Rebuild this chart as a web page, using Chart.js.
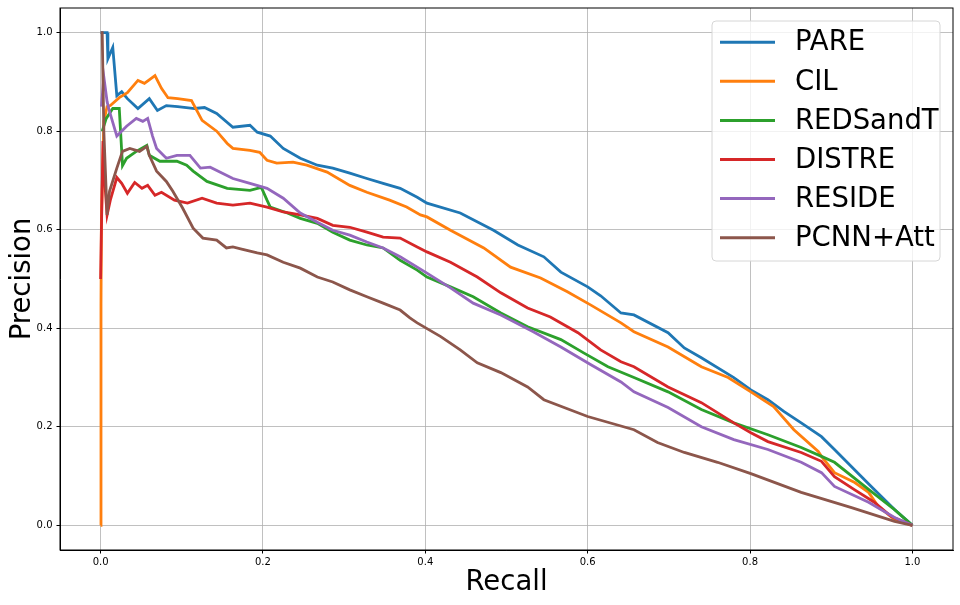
<!DOCTYPE html>
<html>
<head>
<meta charset="utf-8">
<script src="https://cdn.jsdelivr.net/npm/chart.js@4"></script>
<style>
  html, body { margin: 0; padding: 0; background: #fff; }
  #wrap { width: 960px; height: 605px; }
</style>
</head>
<body>
<div id="wrap"><canvas id="pr" width="960" height="605"></canvas></div>
<script>
// values
const seriesNames = ['PARE', 'CIL', 'REDSandT', 'DISTRE', 'RESIDE', 'PCNN+Att'];
const seriesColors = ['#1f77b4', '#ff7f0e', '#2ca02c', '#d62728', '#9467bd', '#8c564b'];
const tickValues = [0.0, 0.2, 0.4, 0.6, 0.8, 1.0];

const pareRecall = [0.0, 0.008, 0.009, 0.015, 0.02, 0.026, 0.033, 0.046, 0.06, 0.07, 0.081, 0.095, 0.116, 0.128, 0.143, 0.163, 0.184, 0.193, 0.209, 0.225, 0.246, 0.267, 0.286, 0.307, 0.328, 0.348, 0.369, 0.39, 0.402, 0.443, 0.484, 0.514, 0.546, 0.567, 0.6, 0.616, 0.641, 0.657, 0.699, 0.719, 0.74, 0.78, 0.801, 0.822, 0.842, 0.863, 0.888, 0.904, 0.937, 0.953, 0.978, 1.0];
const parePrecision = [1.0, 1.0, 0.947, 0.97, 0.872, 0.88, 0.866, 0.846, 0.866, 0.842, 0.852, 0.85, 0.846, 0.848, 0.836, 0.808, 0.812, 0.798, 0.79, 0.765, 0.745, 0.731, 0.725, 0.715, 0.704, 0.694, 0.684, 0.666, 0.654, 0.634, 0.599, 0.569, 0.545, 0.514, 0.484, 0.466, 0.431, 0.427, 0.391, 0.36, 0.34, 0.30, 0.275, 0.255, 0.231, 0.208, 0.18, 0.154, 0.099, 0.073, 0.032, 0.0];

const cilRecall = [0.0, 0.0005, 0.001, 0.004, 0.008, 0.012, 0.023, 0.033, 0.046, 0.054, 0.067, 0.075, 0.083, 0.095, 0.112, 0.125, 0.143, 0.156, 0.163, 0.184, 0.196, 0.205, 0.217, 0.237, 0.254, 0.279, 0.307, 0.328, 0.356, 0.377, 0.394, 0.402, 0.431, 0.472, 0.505, 0.542, 0.575, 0.604, 0.641, 0.657, 0.699, 0.74, 0.773, 0.801, 0.829, 0.854, 0.884, 0.888, 0.904, 0.929, 0.946, 0.958, 0.978, 1.0];
const cilPrecision = [0.0, 0.45, 0.62, 0.82, 0.85, 0.852, 0.868, 0.878, 0.903, 0.897, 0.913, 0.887, 0.868, 0.866, 0.862, 0.822, 0.80, 0.775, 0.765, 0.761, 0.757, 0.741, 0.735, 0.737, 0.731, 0.717, 0.69, 0.676, 0.66, 0.646, 0.63, 0.626, 0.599, 0.563, 0.524, 0.502, 0.474, 0.447, 0.411, 0.393, 0.362, 0.322, 0.30, 0.271, 0.241, 0.194, 0.15, 0.14, 0.107, 0.087, 0.067, 0.038, 0.012, 0.0];

const redsRecall = [0.002, 0.007, 0.015, 0.023, 0.027, 0.032, 0.044, 0.057, 0.06, 0.073, 0.094, 0.106, 0.114, 0.131, 0.156, 0.184, 0.198, 0.205, 0.209, 0.23, 0.246, 0.267, 0.286, 0.307, 0.328, 0.348, 0.369, 0.39, 0.402, 0.431, 0.459, 0.493, 0.526, 0.567, 0.595, 0.625, 0.657, 0.699, 0.74, 0.78, 0.822, 0.863, 0.888, 0.904, 0.946, 0.978, 1.0];
const redsPrecision = [0.8, 0.826, 0.846, 0.846, 0.73, 0.745, 0.759, 0.771, 0.751, 0.739, 0.739, 0.731, 0.719, 0.698, 0.684, 0.68, 0.686, 0.66, 0.646, 0.634, 0.623, 0.613, 0.595, 0.579, 0.569, 0.563, 0.538, 0.518, 0.504, 0.484, 0.464, 0.431, 0.403, 0.377, 0.35, 0.322, 0.30, 0.271, 0.235, 0.208, 0.184, 0.158, 0.14, 0.128, 0.073, 0.032, 0.0];

const distreRecall = [0.0, 0.001, 0.003, 0.005, 0.008, 0.012, 0.02, 0.026, 0.033, 0.042, 0.051, 0.058, 0.067, 0.075, 0.091, 0.107, 0.125, 0.143, 0.163, 0.184, 0.205, 0.225, 0.246, 0.267, 0.286, 0.307, 0.328, 0.348, 0.369, 0.39, 0.402, 0.431, 0.464, 0.493, 0.526, 0.554, 0.588, 0.616, 0.641, 0.657, 0.699, 0.74, 0.78, 0.801, 0.822, 0.863, 0.888, 0.904, 0.928, 0.953, 0.974, 1.0];
const distrePrecision = [0.5, 0.6, 0.78, 0.70, 0.63, 0.66, 0.706, 0.694, 0.674, 0.696, 0.684, 0.69, 0.67, 0.676, 0.66, 0.654, 0.664, 0.654, 0.65, 0.654, 0.646, 0.636, 0.63, 0.623, 0.609, 0.605, 0.595, 0.585, 0.583, 0.565, 0.555, 0.534, 0.504, 0.472, 0.441, 0.423, 0.391, 0.356, 0.332, 0.322, 0.281, 0.249, 0.208, 0.188, 0.17, 0.148, 0.13, 0.099, 0.073, 0.047, 0.018, 0.0];

const resideRecall = [0.001, 0.004, 0.008, 0.011, 0.02, 0.032, 0.044, 0.052, 0.058, 0.064, 0.069, 0.081, 0.094, 0.11, 0.123, 0.135, 0.163, 0.184, 0.205, 0.225, 0.246, 0.267, 0.286, 0.307, 0.328, 0.348, 0.369, 0.39, 0.402, 0.431, 0.459, 0.493, 0.533, 0.567, 0.604, 0.641, 0.657, 0.699, 0.74, 0.78, 0.822, 0.863, 0.888, 0.904, 0.946, 0.978, 1.0];
const residePrecision = [0.85, 0.91, 0.86, 0.84, 0.79, 0.81, 0.826, 0.82, 0.826, 0.79, 0.765, 0.745, 0.751, 0.751, 0.725, 0.727, 0.704, 0.694, 0.684, 0.664, 0.634, 0.615, 0.599, 0.589, 0.575, 0.563, 0.545, 0.524, 0.512, 0.482, 0.451, 0.427, 0.393, 0.362, 0.326, 0.291, 0.271, 0.239, 0.2, 0.174, 0.154, 0.128, 0.107, 0.079, 0.047, 0.016, 0.0];

const pcnnRecall = [0.0, 0.002, 0.004, 0.008, 0.011, 0.02, 0.027, 0.036, 0.048, 0.057, 0.06, 0.069, 0.081, 0.089, 0.101, 0.114, 0.126, 0.143, 0.155, 0.163, 0.175, 0.193, 0.205, 0.225, 0.246, 0.267, 0.286, 0.307, 0.328, 0.348, 0.369, 0.381, 0.39, 0.419, 0.443, 0.464, 0.493, 0.526, 0.546, 0.6, 0.657, 0.686, 0.719, 0.76, 0.801, 0.863, 0.925, 0.978, 1.0];
const pcnnPrecision = [1.0, 1.0, 0.8, 0.63, 0.678, 0.725, 0.759, 0.765, 0.759, 0.769, 0.751, 0.719, 0.698, 0.678, 0.644, 0.603, 0.583, 0.579, 0.563, 0.565, 0.56, 0.553, 0.549, 0.534, 0.522, 0.504, 0.494, 0.478, 0.464, 0.451, 0.437, 0.421, 0.411, 0.383, 0.356, 0.33, 0.31, 0.281, 0.255, 0.221, 0.194, 0.168, 0.148, 0.128, 0.105, 0.067, 0.036, 0.008, 0.0];

const recallSets = [pareRecall, cilRecall, redsRecall, distreRecall, resideRecall, pcnnRecall];
const precisionSets = [parePrecision, cilPrecision, redsPrecision, distrePrecision, residePrecision, pcnnPrecision];

const FONT = 'DejaVu Sans';

const datasets = seriesNames.map((name, i) => ({
  label: name,
  data: recallSets[i].map((r, j) => ({ x: r, y: precisionSets[i][j] })),
  borderColor: seriesColors[i],
  backgroundColor: seriesColors[i],
  borderWidth: 2.8,
  pointRadius: 0,
  showLine: true,
  tension: 0,
  order: seriesNames.length - i   // later series drawn on top, like matplotlib
}));

// black box round the plot area
const frame = {
  id: 'frame',
  afterDatasetsDraw(chart) {
    const { ctx, chartArea: a } = chart;
    ctx.save();
    ctx.strokeStyle = '#000';
    ctx.lineWidth = 1;
    ctx.strokeRect(a.left, a.top, a.right - a.left, a.bottom - a.top);
    ctx.restore();
  }
};

// matplotlib style legend in the upper right
const boxLegend = {
  id: 'boxLegend',
  afterDraw(chart) {
    const ctx = chart.ctx;
    const x0 = 712, y0 = 21, w = 228, h = 240, r = 4;
    ctx.save();
    ctx.beginPath();
    ctx.roundRect(x0, y0, w, h, r);
    ctx.fillStyle = 'rgba(255,255,255,0.8)';
    ctx.fill();
    ctx.strokeStyle = '#d6d6d6';
    ctx.lineWidth = 1;
    ctx.stroke();
    ctx.font = '27.5px "' + FONT + '"';
    ctx.textBaseline = 'middle';
    chart.data.datasets.forEach((ds, i) => {
      const y = 42.3 + i * 39.07;
      ctx.strokeStyle = ds.borderColor;
      ctx.lineWidth = 3;
      ctx.beginPath();
      ctx.moveTo(720, y);
      ctx.lineTo(775, y);
      ctx.stroke();
      ctx.fillStyle = '#000';
      ctx.fillText(ds.label, 795, y + 1);
    });
    ctx.restore();
  }
};

function fixedTicks(scale) {
  scale.ticks = tickValues.map(v => ({ value: v }));
}

new Chart(document.getElementById('pr'), {
  type: 'scatter',
  data: { datasets },
  options: {
    responsive: false,
    animation: false,
    layout: { padding: { left: 0, right: 7, top: 8, bottom: 0 } },
    plugins: { legend: { display: false }, tooltip: { enabled: false } },
    scales: {
      x: {
        type: 'linear',
        min: -0.05,
        max: 1.05,
        afterBuildTicks: fixedTicks,
        afterFit(scale) { scale.height = 55; scale.paddingLeft = 0; scale.paddingRight = 0; },
        grid: { color: '#b0b0b0', lineWidth: 0.8, tickLength: 3.5, tickColor: '#000', tickWidth: 1 },
        border: { display: true, color: '#000', width: 1 },
        ticks: {
          color: '#000', padding: 3, maxRotation: 0,
          font: { family: FONT, size: 10 },
          callback: v => v.toFixed(1)
        },
        title: {
          display: true, text: 'Recall', color: '#000',
          font: { family: FONT, size: 27.5 },
          padding: { top: 0, bottom: 6 }
        }
      },
      y: {
        type: 'linear',
        min: -0.05,
        max: 1.05,
        afterBuildTicks: fixedTicks,
        afterFit(scale) { scale.width = 60; scale.paddingTop = 0; scale.paddingBottom = 0; },
        grid: { color: '#b0b0b0', lineWidth: 0.8, tickLength: 3.5, tickColor: '#000', tickWidth: 1 },
        border: { display: true, color: '#000', width: 1 },
        ticks: {
          color: '#000', padding: 4,
          font: { family: FONT, size: 10 },
          callback: v => v.toFixed(1)
        },
        title: {
          display: true, text: 'Precision', color: '#000',
          font: { family: FONT, size: 27.5 },
          padding: { top: 6, bottom: 0 }
        }
      }
    }
  },
  plugins: [frame, boxLegend]
});
</script>
</body>
</html>
